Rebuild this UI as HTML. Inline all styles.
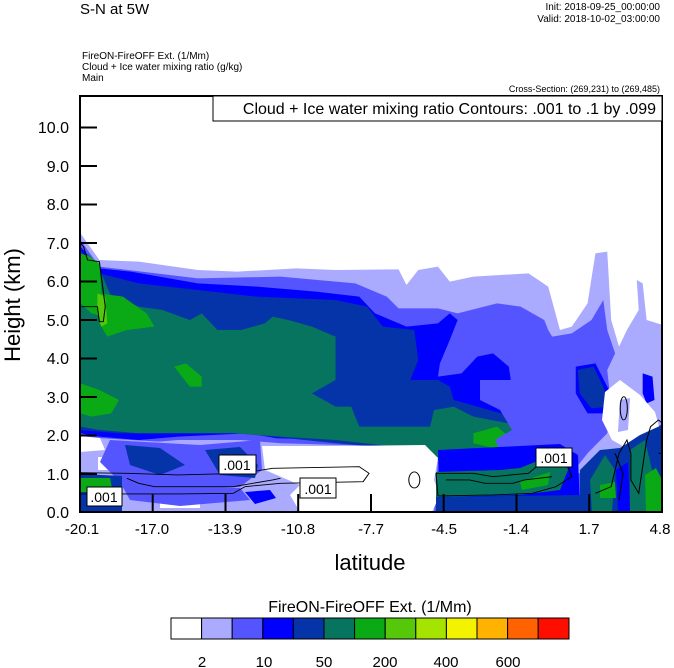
<!DOCTYPE html>
<html><head><meta charset="utf-8"><style>
body{margin:0;background:#fff;width:674px;height:668px;overflow:hidden}
svg{display:block;font-family:"Liberation Sans",sans-serif}
</style></head><body>
<svg width="674" height="668" viewBox="0 0 674 668">
<defs><clipPath id="c"><rect x="80" y="96" width="582" height="416"/></clipPath></defs>
<text x="80" y="14" font-size="15">S-N at 5W</text>
<text x="660" y="10" font-size="10" text-anchor="end">Init: 2018-09-25_00:00:00</text>
<text x="660" y="22" font-size="10" text-anchor="end">Valid: 2018-10-02_03:00:00</text>
<text x="82" y="59" font-size="10">FireON-FireOFF Ext.   (1/Mm)</text>
<text x="82" y="70" font-size="10">Cloud + Ice water mixing ratio   (g/kg)</text>
<text x="82" y="81" font-size="10">Main</text>
<text x="660" y="92" font-size="9" text-anchor="end">Cross-Section: (269,231) to (269,485)</text>
<g clip-path="url(#c)">
<g transform="translate(60 220) scale(0.3937 0.3333)">
<polygon fill="#aaaaff" points="52,40 100,120 200,125 350,150 450,155 600,145 700,150 860,148 880,195 910,150 960,140 990,185 1050,170 1190,160 1240,200 1270,330 1300,320 1340,250 1360,100 1390,95 1400,300 1420,380 1440,330 1470,270 1465,180 1480,190 1490,300 1545,320 1545,880 52,880"/>
<polygon fill="#5555ff" points="100,140 350,175 560,170 750,190 830,230 860,265 960,265 1010,280 1110,250 1170,260 1230,300 1240,330 1250,350 1300,340 1350,300 1380,240 1390,330 1410,400 1390,450 1400,560 1390,640 1340,700 1300,760 1350,760 1420,700 1490,640 1545,600 1545,880 950,880 960,720 940,690 860,680 560,670 460,660 300,660 200,670 130,690 110,700 52,650 52,60"/>
<polygon fill="#0000ff" points="52,80 100,145 180,155 350,190 500,200 650,215 760,230 800,280 880,320 960,310 990,280 1010,300 990,360 965,430 960,470 1020,460 1060,410 1100,400 1140,440 1150,520 1180,560 1220,560 1240,600 1230,650 1200,700 1100,700 980,690 950,680 880,670 700,660 550,655 480,640 300,650 200,660 100,650 52,640"/>
<polygon fill="#0000ff" points="1310,440 1360,430 1390,500 1410,540 1400,580 1340,580 1310,520"/>
<polygon fill="#0000ff" points="1480,460 1505,470 1510,540 1490,550 1480,520"/>
<polygon fill="#0434a8" points="52,90 100,160 200,190 350,210 500,230 700,240 780,260 820,320 900,330 910,420 890,480 960,480 990,500 1000,540 1060,560 1150,590 1170,640 1160,700 1100,720 960,700 880,690 800,680 700,670 620,660 540,650 450,640 350,630 250,640 150,640 52,630"/>
<polygon fill="#0434a8" points="1315,450 1355,440 1380,500 1395,560 1350,565 1320,520"/>
<polygon fill="#06745f" points="52,140 70,100 100,145 130,230 200,260 260,270 330,300 360,280 400,330 460,330 520,310 540,290 580,300 640,320 700,350 700,480 640,520 700,560 740,560 760,620 860,620 940,620 950,570 1000,560 1050,590 1140,610 1160,650 1140,680 1060,690 1000,690 960,720 930,690 850,680 700,660 560,650 440,640 300,640 200,640 100,630 52,620"/>
<g fill="#0aaa16">
<polygon points="52,490 100,510 150,540 130,580 80,590 52,580"/>
<polygon points="290,440 320,430 360,470 360,500 330,500"/>
<polygon points="100,220 160,230 220,280 240,320 170,330 120,350 100,310"/>
<polygon points="52,100 75,110 100,130 110,290 80,280 52,250"/>
<polygon points="1050,640 1110,620 1140,650 1120,690 1050,670"/>
</g>
<polygon fill="#55c80a" points="95,220 115,230 120,310 105,320 95,280"/>
</g>
<polygon fill="#aaaaff" points="80,437 200,444 300,446 378,448 378,512 80,512"/>
<g fill="#fff">
<polygon points="80,436 100,438 105,450 80,452"/>
<polygon points="262,446 330,446 425,445 438,458 434,480 440,495 432,512 300,512 290,495 300,485 265,470"/>
<polygon points="98,457 118,458 120,470 98,470"/>
<polygon points="160,497 200,498 200,508 160,508"/>
<polygon points="605,392 620,380 640,395 655,412 660,430 648,446 630,450 612,440 602,420"/>
</g>
<polygon fill="#aaaaff" points="620,400 630,398 628,430 618,432"/>
<polygon fill="#5555ff" points="110,440 200,445 260,440 262,470 240,487 180,488 120,482 100,462"/>
<polygon fill="#5555ff" points="120,482 240,488 250,500 180,506 130,500"/>
<polygon fill="#0434a8" points="125,445 160,448 185,465 160,475 130,465"/>
<polygon fill="#0434a8" points="205,450 240,447 258,465 255,478 220,475"/>
<polygon fill="#0000ff" points="245,492 270,490 276,498 255,504"/>
<polygon fill="#0434a8" points="80,474 122,476 122,512 80,512"/>
<polygon fill="#0aaa16" points="80,478 110,478 112,488 90,492 80,492"/>
<polygon fill="#5555ff" points="480,380 520,380 540,400 552,420 552,455 505,460 495,440 512,430 500,410 480,400"/>
<polygon fill="#0000ff" points="438,450 520,446 560,444 578,455 580,512 440,512"/>
<polygon fill="#06745f" points="436,472 500,470 520,468 545,458 562,452 568,470 560,490 520,495 436,497"/>
<polygon fill="#0aaa16" points="520,482 550,472 548,485 522,490"/>
<polygon fill="#0434a8" points="436,497 580,495 580,512 436,512"/>
<polygon fill="#0434a8" points="580,470 600,450 620,448 640,435 662,425 662,512 580,512"/>
<polygon fill="#06745f" points="590,480 605,455 615,470 612,512 592,512"/>
<polygon fill="#06745f" points="630,450 645,440 652,470 648,512 630,512"/>
<polygon fill="#0000ff" points="616,470 628,462 630,512 618,512"/>
<polygon fill="#0aaa16" points="645,475 656,468 662,480 662,512 646,512"/>
<polygon fill="#0aaa16" points="600,485 615,482 616,498 600,498"/>
<g transform="translate(60 220) scale(0.3937 0.3333)">
<g fill="none" stroke="#000" stroke-width="2.6">
<polyline points="52,70 60,80 70,120 100,125 115,260 110,305 100,305 95,260 55,260"/>
<polyline points="52,758 170,760 300,765 460,760 540,745 760,740 785,760 770,785 560,790 470,800 440,820 300,822 200,822 52,822"/>
<polyline points="170,775 200,790 240,800 300,800 440,800 540,780 560,775"/>
<ellipse cx="900" cy="780" rx="14" ry="24"/>
<polyline points="955,760 1050,760 1100,770 1190,760 1210,740 1290,740 1300,770 1260,800 1200,820 1100,825 960,828 955,760"/>
<polyline points="980,780 1040,780 1080,790 1150,790 1180,780 1250,770"/>
<ellipse cx="1432" cy="565" rx="9" ry="35"/>
<polyline points="1360,820 1400,800 1420,700 1440,660 1450,700 1450,780 1470,820 1490,660 1500,620 1520,600 1540,620 1545,700 1520,700"/>
<polyline points="1410,700 1430,760 1420,840"/>
</g>
</g>
</g>
<g fill="#fff" stroke="#000" stroke-width="1">
<rect x="219" y="455" width="37" height="19"/>
<rect x="300" y="478" width="36" height="20"/>
<rect x="87" y="487" width="35" height="19"/>
<rect x="536" y="448" width="36" height="19"/>
</g>
<g font-size="14" text-anchor="middle">
<text x="237" y="470">.001</text>
<text x="318" y="494">.001</text>
<text x="104" y="502">.001</text>
<text x="554" y="463">.001</text>
</g>
<rect x="80" y="96" width="582" height="416" fill="none" stroke="#000" stroke-width="2"/>
<rect x="213" y="96" width="449" height="25" fill="#fff" stroke="#000" stroke-width="1"/>
<text x="656" y="114" font-size="16" text-anchor="end">Cloud + Ice water mixing ratio Contours: .001 to .1 by .099</text>
<g stroke="#000" stroke-width="2">
<path d="M80 127.5h17M80 166h17M80 204.5h17M80 243h17M80 281.5h17M80 320h17M80 358.5h17M80 397h17M80 435.5h17M80 474h17"/>
<path d="M152.7 512v-18M225.5 512v-18M298.2 512v-18M371 512v-18M443.7 512v-18M516.5 512v-18M589.2 512v-18"/>
</g>
<g font-size="16" text-anchor="end">
<text x="69" y="133">10.0</text><text x="69" y="172">9.0</text><text x="69" y="210">8.0</text><text x="69" y="249">7.0</text><text x="69" y="287">6.0</text><text x="69" y="326">5.0</text><text x="69" y="364">4.0</text><text x="69" y="403">3.0</text><text x="69" y="441">2.0</text><text x="69" y="480">1.0</text><text x="69" y="518">0.0</text>
</g>
<g font-size="15" text-anchor="middle">
<text x="82" y="534">-20.1</text><text x="152" y="534">-17.0</text><text x="225" y="534">-13.9</text><text x="298" y="534">-10.8</text><text x="371" y="534">-7.7</text><text x="444" y="534">-4.5</text><text x="516" y="534">-1.4</text><text x="589" y="534">1.7</text><text x="660" y="534">4.8</text>
</g>
<text x="370" y="570" font-size="22" text-anchor="middle">latitude</text>
<text transform="translate(20 305) rotate(-90)" font-size="22" text-anchor="middle">Height (km)</text>
<text x="370" y="612" font-size="16" text-anchor="middle">FireON-FireOFF Ext.  (1/Mm)</text>
<g stroke="#000" stroke-width="1">
<rect x="171" y="618" width="30.6" height="21" fill="#fff"/>
<rect x="201.6" y="618" width="30.6" height="21" fill="#aaaaff"/>
<rect x="232.2" y="618" width="30.6" height="21" fill="#5555ff"/>
<rect x="262.8" y="618" width="30.6" height="21" fill="#0000ff"/>
<rect x="293.4" y="618" width="30.6" height="21" fill="#0434a8"/>
<rect x="324" y="618" width="30.6" height="21" fill="#06745f"/>
<rect x="354.6" y="618" width="30.6" height="21" fill="#0aaa16"/>
<rect x="385.2" y="618" width="30.6" height="21" fill="#55c80a"/>
<rect x="415.8" y="618" width="30.6" height="21" fill="#a5e300"/>
<rect x="446.4" y="618" width="30.6" height="21" fill="#f3f300"/>
<rect x="477" y="618" width="30.6" height="21" fill="#ffb300"/>
<rect x="507.6" y="618" width="30.6" height="21" fill="#ff6200"/>
<rect x="538.2" y="618" width="30.8" height="21" fill="#ff0e00"/>
</g>
<g font-size="15" text-anchor="middle">
<text x="202" y="667">2</text><text x="264" y="667">10</text><text x="324" y="667">50</text><text x="385" y="667">200</text><text x="446" y="667">400</text><text x="508" y="667">600</text>
</g>
</svg>
</body></html>
